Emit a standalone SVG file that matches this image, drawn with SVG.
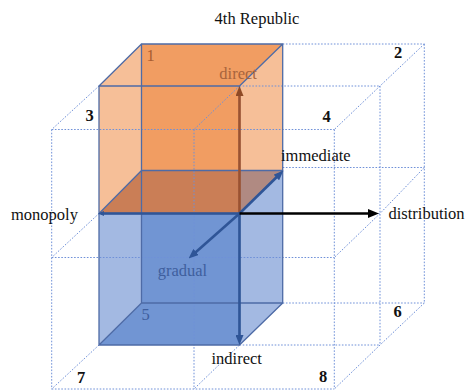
<svg xmlns="http://www.w3.org/2000/svg" width="467" height="390" viewBox="0 0 467 390">
<style>
.grid{stroke:#6F90D8;stroke-width:1;stroke-dasharray:1.6 1.6;fill:none}
.edge{stroke:#4E6BA6;stroke-width:1.3;fill:none}
.t{font-family:"Liberation Serif","Times New Roman",serif;font-size:16.5px;fill:#111}
.n{font-family:"Liberation Serif","Times New Roman",serif;font-size:16.5px;font-weight:bold;fill:#111}
.ab{stroke:#2F5597;stroke-width:2.6;fill:none}
</style>
<defs>
<marker id="mb" markerWidth="10" markerHeight="8" refX="5" refY="4" orient="auto" markerUnits="userSpaceOnUse"><path d="M0,0 L10,4 L0,8 z" fill="#2F5597"/></marker>
<marker id="mk" markerWidth="11" markerHeight="9" refX="5" refY="4.5" orient="auto" markerUnits="userSpaceOnUse"><path d="M0,0 L11,4.5 L0,9 z" fill="#000"/></marker>
<marker id="mo" markerWidth="10" markerHeight="8" refX="5" refY="4" orient="auto" markerUnits="userSpaceOnUse"><path d="M0,0 L10,4 L0,8 z" fill="#8E4A26"/></marker>
<marker id="ms" markerWidth="6" markerHeight="5" refX="3" refY="2.5" orient="auto" markerUnits="userSpaceOnUse"><path d="M0,0 L6,2.5 L0,5 z" fill="#2F5597"/></marker>
</defs>
<rect width="467" height="390" fill="#fff"/>

<g id="box-orange">
<polygon points="141.5,44 99,86 99,213.5 141.5,170.5" fill="#F6BF98"/>
<polygon points="282.7,44 239.5,86 239.5,213.5 282.7,170.5" fill="#F6BF98"/>
<polygon points="141.5,44 282.7,44 239.5,86 239.5,170.5 141.5,170.5" fill="#F19D62"/>
<polygon points="141.5,170.5 239.5,170.5 239.5,213.5 99,213.5" fill="#CA7E56"/>
<polygon points="239.5,170.5 282.7,170.5 239.5,213.5" fill="#B08A82"/>
</g>
<g id="box-blue">
<polygon points="141.5,213.5 99,213.5 99,345 141.5,303" fill="#A3B9E2"/>
<polygon points="141.5,213.5 239.5,213.5 239.5,303 141.5,303" fill="#7195D3"/>
<polygon points="141.5,303 282.7,303 239.5,345 99,345" fill="#7195D3"/>
<polygon points="282.7,170.5 239.5,213.5 239.5,345 282.7,303" fill="#A3B9E2"/>
</g>

<g id="grid">
<path class="grid" d="M282.7,44H424.3 M282.7,167.5H424.3 M282.7,303H424.3 M424.3,44V303"/>
<path class="grid" d="M239.5,86H380 M239.5,213.5H380 M239.5,345H380 M380,86V345"/>
<path class="grid" d="M51.7,129.5H334.3 M51.7,257.5H334.3 M51.7,389H334.3 M51.7,129.5V389 M194,129.5V389 M334.3,129.5V389"/>
<path class="grid" d="M424.3,44L380,86 M424.3,167.5L380,213.5 M424.3,303L380,345"/>
<path class="grid" d="M99,86L51.7,129.5 M239.5,86L194,129.5 M380,86L334.3,129.5 M99,213.5L51.7,257.5 M380,213.5L334.3,257.5 M99,345L51.7,389 M239.5,345L194,389 M380,345L334.3,389"/>
</g>

<g id="box-edges">
<path class="edge" d="M141.5,44H282.7V170.5H141.5Z M99,86H239.5V213.5H99Z M141.5,44L99,86 M282.7,44L239.5,86 M141.5,170.5L99,213.5 M282.7,170.5L239.5,213.5"/>
<path class="edge" d="M141.5,170.5V303H282.7V170.5 M99,213.5V345H239.5V213.5 M141.5,303L99,345 M282.7,303L239.5,345"/>
</g>

<g id="connectors">
<line x1="239.5" y1="213.5" x2="239.5" y2="91" stroke="#9B5230" stroke-width="2.6" marker-end="url(#mo)"/>
<line class="ab" x1="239.5" y1="213.5" x2="239.5" y2="340" marker-end="url(#mb)"/>
<line class="ab" x1="239.5" y1="213.5" x2="192.3" y2="255.2" marker-end="url(#mb)"/>
<line class="ab" x1="239.5" y1="213.5" x2="279.9" y2="174" marker-end="url(#mb)"/>
<line class="ab" x1="239.5" y1="213.5" x2="101" y2="213.5" marker-end="url(#ms)"/>
<line x1="239.5" y1="213.5" x2="373" y2="213.5" stroke="#000" stroke-width="2.6" marker-end="url(#mk)"/>
</g>

<g id="labels">
<text class="t" x="257" y="24" text-anchor="middle">4th Republic</text>
<text class="t" x="219.3" y="78.5" fill="#A8643C" style="fill:#A8643C">direct</text>
<text class="t" x="281" y="161">immediate</text>
<text class="t" x="11" y="220">monopoly</text>
<text class="t" x="388.5" y="218.5">distribution</text>
<text class="t" x="157.7" y="276" style="fill:#3F5F9E">gradual</text>
<text class="t" x="211.5" y="363.5">indirect</text>
</g>
<g id="numbers">
<text class="n" x="146.5" y="60.7" style="fill:#A85C30;font-weight:normal">1</text>
<text class="n" x="394" y="58.3">2</text>
<text class="n" x="85.5" y="120.7">3</text>
<text class="n" x="322.5" y="122.3">4</text>
<text class="n" x="141.5" y="320" style="fill:#3F5F9E;font-weight:normal">5</text>
<text class="n" x="393.5" y="316.7">6</text>
<text class="n" x="77" y="383.3">7</text>
<text class="n" x="319" y="381.7">8</text>
</g>
</svg>
